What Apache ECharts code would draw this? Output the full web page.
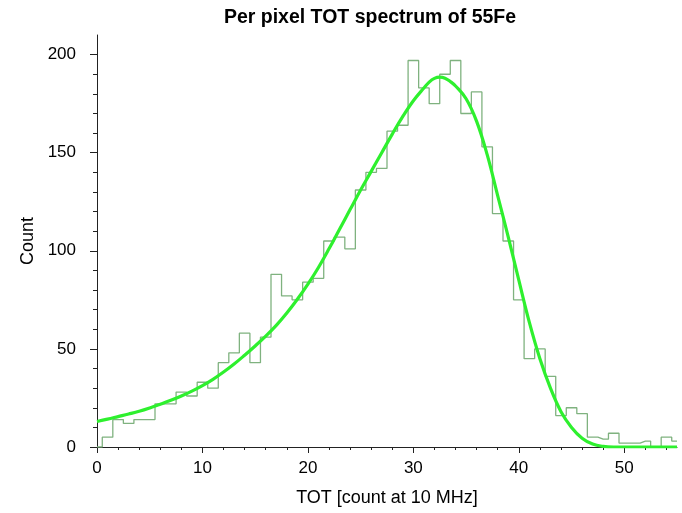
<!DOCTYPE html>
<html>
<head>
<meta charset="utf-8">
<script src="https://cdn.jsdelivr.net/npm/echarts@6/dist/echarts.min.js"></script>
<style>
html,body{margin:0;padding:0;background:#fff;}
#chart{width:682px;height:513px;}
</style>
</head>
<body>
<div id="chart"></div>
<script>
// Histogram bins (bin centres, 1 count unit wide)
const binCenters = [0,1,2,3,4,5,6,7,8,9,10,11,12,13,14,15,16,17,18,19,20,21,22,23,24,25,26,27,28,29,30,31,32,33,34,35,36,37,38,39,40,41,42,43,44,45,46,47,48,49,50,51,52,53,54,55];
const counts     = [0,5,14,12,14,14,22,22,28,26,33,30,43,48,58,43,56,88,77,75,84,86,105,107,101,131,140,142,161,164,197,183,175,190,197,170,181,153,119,105,75,45,50,36,16,20,17,5,4,7,2,2,3,0,5,3];
// Fitted curve
const fitX = [0,1,2,3,4,5,6,7,8,9,10,11,12,13,14,15,16,17,18,19,20,21,22,23,24,25,26,27,28,29,30,31,31.5,32,32.5,33,33.5,34,35,36,37,38,39,40,41,42,43,44,45,46,47,48,49,50,51,52,53,54,55];
const fitY = [13,14.2,15.5,16.8,18.2,19.9,21.8,23.8,26,28.5,31.3,34.5,38.2,42.3,46.8,51.5,56.5,62,68.3,75.3,83,91.5,101,111,121,131,140.5,150,159.5,168.5,176.5,183,186,187.9,188.5,188,186.3,184,177.5,166,149,128,107,85,63.5,45,30,18,10,4.5,1.5,0.3,0,0,0,0,0,0,0];
// Axis ticks
const xMajorTicks = [0,10,20,30,40,50];
const xMinorTicks = [0,2,4,6,8,10,12,14,16,18,20,22,24,26,28,30,32,34,36,38,40,42,44,46,48,50,52,54];
const yMajorTicks = [0,50,100,150,200];
const yMinorTicks = [0,10,20,30,40,50,60,70,80,90,100,110,120,130,140,150,160,170,180,190,200];
const titleText = 'Per pixel TOT spectrum of 55Fe';
const xName = 'TOT [count at 10 MHz]';
const yName = 'Count';

const FONT = 'Liberation Sans, Arial, sans-serif';
const chart = echarts.init(document.getElementById('chart'));
const axisColor = '#222';
const histData = binCenters.map((x, i) => [x, counts[i]]);
const fitData = fitX.map((x, i) => [x, fitY[i]]);

const baseX = {type:'value', min:0, max:55, gridIndex:0, position:'bottom', splitLine:{show:false}};
const baseY = {type:'value', min:0, max:210, gridIndex:0, position:'left', splitLine:{show:false}};

chart.setOption({
  animation:false,
  backgroundColor:'#fff',
  grid:{left:97, right:5, top:35, bottom:66, containLabel:false},
  graphic:[{type:'text', x:370, y:18, style:{text:titleText, font:'bold 19.5px ' + FONT, fill:'#000', textAlign:'center', textVerticalAlign:'middle'}}],
  xAxis:[
    Object.assign({}, baseX, {
      interval:10,
      name:xName, nameLocation:'middle', nameGap:42,
      nameTextStyle:{color:'#000', fontSize:18, fontFamily:FONT},
      axisLine:{show:true, lineStyle:{color:axisColor, width:1}},
      axisTick:{show:true, length:6, customValues:xMajorTicks, lineStyle:{color:axisColor}},
      axisLabel:{show:true, customValues:xMajorTicks, margin:13, color:'#000', fontSize:17, fontFamily:FONT}
    }),
    Object.assign({}, baseX, {
      interval:2,
      axisLine:{show:false},
      axisTick:{show:true, length:3, customValues:xMinorTicks, lineStyle:{color:axisColor}},
      axisLabel:{show:false}
    })
  ],
  yAxis:[
    Object.assign({}, baseY, {
      interval:50,
      name:yName, nameLocation:'middle', nameGap:58,
      nameTextStyle:{color:'#000', fontSize:18, fontFamily:FONT},
      axisLine:{show:true, lineStyle:{color:axisColor, width:1}},
      axisTick:{show:true, length:7, customValues:yMajorTicks, lineStyle:{color:axisColor}},
      axisLabel:{show:true, customValues:yMajorTicks, margin:21, color:'#000', fontSize:17, fontFamily:FONT}
    }),
    Object.assign({}, baseY, {
      interval:10,
      axisLine:{show:false},
      axisTick:{show:true, length:4, customValues:yMinorTicks, lineStyle:{color:axisColor}},
      axisLabel:{show:false}
    })
  ],
  series:[
    {type:'line', name:'hist', xAxisIndex:0, yAxisIndex:0, data:histData, step:'middle',
     showSymbol:false, symbol:'none', lineStyle:{color:'#7fb27f', width:1.3}, z:2},
    {type:'line', name:'fit', xAxisIndex:0, yAxisIndex:0, data:fitData, smooth:0.4,
     showSymbol:false, symbol:'none', lineStyle:{color:'#2ef02e', width:3.2}, z:3}
  ]
});
</script>
</body>
</html>
